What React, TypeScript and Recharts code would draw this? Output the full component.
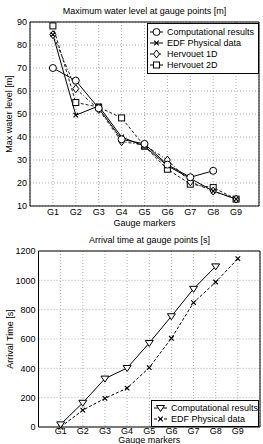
import React from 'react';
import {
  LineChart,
  Line,
  XAxis,
  YAxis,
  CartesianGrid,
  Legend,
  ReferenceArea,
} from 'recharts';

// Gauge labels along the channel
const gauges = ['G1', 'G2', 'G3', 'G4', 'G5', 'G6', 'G7', 'G8', 'G9'];

// Maximum water level [m]
const levelComputed = [70, 64.5, 52.5, 39, 37, 28, 22.5, 25.3, null];
const levelEdf = [84.5, 49.5, 53.5, 40, 36, 27.5, 22, 16.5, 13];
const levelHervouet1D = [84.5, 61, 52, 38, 36.5, 30, 20.5, 16.5, 13];
const levelHervouet2D = [88.3, 55, 53, 48.3, 36, 26, 19.5, 18, 13];

// Arrival time [s]
const timeComputed = [18, 165, 330, 402, 573, 755, 942, 1095, null];
const timeEdf = [0, 115, 195, 265, 405, 605, 848, 988, 1148];

const levelTicks = [10, 20, 30, 40, 50, 60, 70, 80, 90];
const timeTicks = [0, 200, 400, 600, 800, 1000, 1200];
const gaugeTicks = gauges.map((_, i) => i + 1);

const levelData = gauges.map((g, i) => ({
  x: i + 1,
  gauge: g,
  computed: levelComputed[i],
  edf: levelEdf[i],
  h1d: levelHervouet1D[i],
  h2d: levelHervouet2D[i],
}));

const timeData = gauges.map((g, i) => ({
  x: i + 1,
  gauge: g,
  computed: timeComputed[i],
  edf: timeEdf[i],
}));

const FONT = '"Liberation Sans", Arial, Helvetica, sans-serif';
const tickStyle = { fontSize: 9, fill: '#000', fontFamily: FONT };

type Shape = 'circle' | 'cross' | 'diamond' | 'square' | 'triangle';

function marker(shape: Shape, cx: number, cy: number, key?: string | number) {
  const s = 3.5;
  const common = { stroke: '#000', strokeWidth: 1, fill: '#fff' };
  switch (shape) {
    case 'circle':
      return <circle key={key} cx={cx} cy={cy} r={s} {...common} />;
    case 'square':
      return <rect key={key} x={cx - s + 0.5} y={cy - s + 0.5} width={2 * s - 1} height={2 * s - 1} {...common} />;
    case 'diamond':
      return (
        <polygon
          key={key}
          points={`${cx},${cy - s - 0.5} ${cx + s - 0.5},${cy} ${cx},${cy + s + 0.5} ${cx - s + 0.5},${cy}`}
          {...common}
        />
      );
    case 'triangle':
      return (
        <polygon
          key={key}
          points={`${cx - s - 0.5},${cy - s + 1} ${cx + s + 0.5},${cy - s + 1} ${cx},${cy + s}`}
          {...common}
        />
      );
    case 'cross':
    default: {
      const c = 2.3;
      return (
        <path
          key={key}
          d={`M${cx - c},${cy - c}L${cx + c},${cy + c}M${cx - c},${cy + c}L${cx + c},${cy - c}`}
          stroke="#000"
          strokeWidth={1.2}
          fill="none"
        />
      );
    }
  }
}

const dotFor = (shape: Shape) => (props: any) => {
  const { cx, cy, index, value } = props;
  if (value == null || cx == null || cy == null) return <g key={`e-${index}`} />;
  return marker(shape, cx, cy, `${shape}-${index}`);
};

type LegendItem = { label: string; shape: Shape; dash?: string };

function LegendBox({
  items,
  width,
  rowHeight,
  padTop,
}: {
  items: LegendItem[];
  width: number;
  rowHeight: number;
  padTop: number;
}) {
  const height = padTop * 2 + rowHeight * (items.length - 1) + 2;
  return (
    <svg width={width} height={height} style={{ display: 'block' }}>
      <rect x={0.5} y={0.5} width={width - 1} height={height - 1} fill="#fff" stroke="#000" strokeWidth={1} />
      {items.map((it, i) => {
        const y = padTop + 1 + i * rowHeight;
        return (
          <g key={it.label}>
            <line x1={3} x2={16} y1={y} y2={y} stroke="#000" strokeWidth={1} strokeDasharray={it.dash} />
            {marker(it.shape, 9.5, y)}
            <text x={20} y={y} dy="0.35em" fontSize={9} fontFamily={FONT} fill="#000">
              {it.label}
            </text>
          </g>
        );
      })}
    </svg>
  );
}

const levelLegend: LegendItem[] = [
  { label: 'Computational results', shape: 'circle' },
  { label: 'EDF Physical data', shape: 'cross' },
  { label: 'Hervouet 1D', shape: 'diamond', dash: '3 2 1 2' },
  { label: ' Hervouet 2D', shape: 'square', dash: '3 2' },
];

const timeLegend: LegendItem[] = [
  { label: 'Computational results', shape: 'triangle' },
  { label: 'EDF Physical data', shape: 'cross', dash: '3 2' },
];

const titleStyle: React.CSSProperties = {
  position: 'absolute',
  fontFamily: FONT,
  fontSize: 9,
  color: '#000',
  whiteSpace: 'nowrap',
  lineHeight: '10px',
};

export default function App() {
  return (
    <div style={{ position: 'absolute', left: 0, top: 0, width: 263, height: 444, background: '#fff', overflow: 'hidden' }}>
      <div style={{ ...titleStyle, left: 30, width: 229, top: 6, textAlign: 'center' }}>
        Maximum water level at gauge points [m]
      </div>
      <div style={{ position: 'absolute', left: 0, top: 0 }}>
        <LineChart width={263} height={236} data={levelData} margin={{ top: 22, right: 4, bottom: 10, left: 0 }}>
          <CartesianGrid stroke="#999" strokeDasharray="1 2" strokeWidth={0.8} />
          <XAxis
            dataKey="x"
            type="number"
            domain={[0, 10]}
            ticks={gaugeTicks}
            tickFormatter={(v: number) => gauges[v - 1] ?? ''}
            tick={tickStyle}
            tickLine={false}
            tickSize={3}
            tickMargin={0}
            height={20}
            axisLine={false}
            interval={0}
            label={{ value: 'Gauge markers', position: 'insideBottom', offset: 0, style: { fontSize: 9, fill: '#000', fontFamily: FONT } }}
          />
          <YAxis
            type="number"
            domain={[10, 90]}
            ticks={levelTicks}
            tick={tickStyle}
            tickLine={false}
            tickSize={3}
            tickMargin={0}
            width={30}
            axisLine={false}
            interval={0}
            label={{
              value: 'Max water level [m]',
              angle: -90,
              position: 'insideLeft',
              offset: 9,
              style: { fontSize: 9, fill: '#000', fontFamily: FONT, textAnchor: 'middle' },
            }}
          />
          <ReferenceArea x1={0} x2={10} y1={10} y2={90} fill="none" stroke="#000" strokeWidth={1} fillOpacity={0} />
          <Line dataKey="h2d" stroke="#000" strokeWidth={0.9} strokeDasharray="3 2" dot={dotFor('square')} isAnimationActive={false} />
          <Line dataKey="h1d" stroke="#000" strokeWidth={0.9} strokeDasharray="3 2 1 2" dot={dotFor('diamond')} isAnimationActive={false} />
          <Line dataKey="edf" stroke="#000" strokeWidth={1} dot={dotFor('cross')} isAnimationActive={false} />
          <Line dataKey="computed" stroke="#000" strokeWidth={1} dot={dotFor('circle')} isAnimationActive={false} connectNulls={false} />
          <Legend
            layout="vertical"
            align="center"
            verticalAlign="middle"
            wrapperStyle={{ position: 'absolute', left: 147, top: 23, width: 112 }}
            content={() => <LegendBox items={levelLegend} width={112} rowHeight={11} padTop={8} />}
          />
        </LineChart>
      </div>

      <div style={{ ...titleStyle, left: 39, width: 221, top: 235, textAlign: 'center' }}>
        Arrival time at gauge points [s]
      </div>
      <div style={{ position: 'absolute', left: 0, top: 230 }}>
        <LineChart width={263} height={214} data={timeData} margin={{ top: 21, right: 3, bottom: 0, left: 0 }}>
          <CartesianGrid stroke="#999" strokeDasharray="1 2" strokeWidth={0.8} />
          <XAxis
            dataKey="x"
            type="number"
            domain={[0, 10]}
            ticks={gaugeTicks}
            tickFormatter={(v: number) => gauges[v - 1] ?? ''}
            tick={tickStyle}
            tickLine={false}
            tickSize={1}
            tickMargin={0}
            height={17}
            axisLine={false}
            interval={0}
            label={{ value: 'Gauge markers', position: 'insideBottom', offset: 1, style: { fontSize: 9, fill: '#000', fontFamily: FONT } }}
          />
          <YAxis
            type="number"
            domain={[0, 1200]}
            ticks={timeTicks}
            tick={tickStyle}
            tickLine={false}
            tickSize={3}
            tickMargin={0}
            width={38.5}
            axisLine={false}
            interval={0}
            label={{
              value: 'Arrival Time [s]',
              angle: -90,
              position: 'insideLeft',
              offset: 10,
              style: { fontSize: 9, fill: '#000', fontFamily: FONT, textAnchor: 'middle' },
            }}
          />
          <ReferenceArea x1={0} x2={10} y1={0} y2={1200} fill="none" stroke="#000" strokeWidth={1} fillOpacity={0} />
          <Line dataKey="edf" stroke="#000" strokeWidth={1} strokeDasharray="3 2" dot={dotFor('cross')} isAnimationActive={false} />
          <Line dataKey="computed" stroke="#000" strokeWidth={1} dot={dotFor('triangle')} isAnimationActive={false} />
          <Legend
            layout="vertical"
            align="center"
            verticalAlign="middle"
            wrapperStyle={{ position: 'absolute', left: 151, top: 170, width: 108 }}
            content={() => <LegendBox items={timeLegend} width={108} rowHeight={11} padTop={7} />}
          />
        </LineChart>
      </div>
    </div>
  );
}
